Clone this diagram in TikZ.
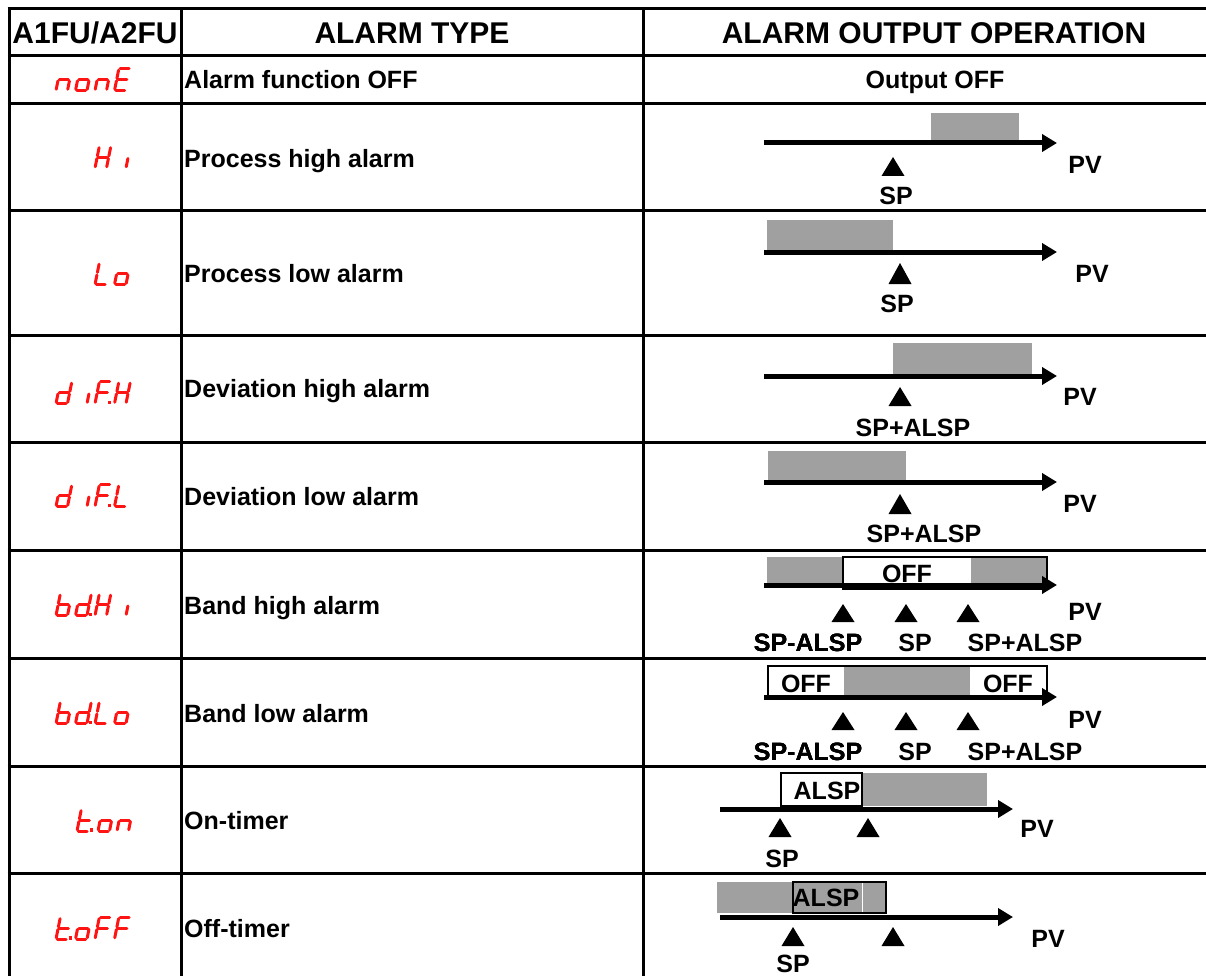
\documentclass[tikz,border=0pt]{standalone}
\usepackage{fontspec}
\setmainfont{Liberation Sans}
\usetikzlibrary{arrows.meta}

\definecolor{segred}{RGB}{255,20,20}
\definecolor{bandgray}{RGB}{160,160,160}

\tikzset{
  rule/.style={line width=3pt},
  txt/.style={font=\fontsize{25}{29}\selectfont\bfseries, inner sep=0pt, text height=18pt, text depth=0pt},
  head/.style={font=\fontsize{30}{34}\selectfont\bfseries, inner sep=0pt, text height=21.5pt, text depth=0pt},
  axis/.style={line width=5pt, -{Triangle[length=15pt,width=17pt]}},
  band/.style={fill=bandgray},
  offbox/.style={draw, line width=2.5pt},
  seg/.style={draw=segred, line width=3pt, line cap=round, shorten <=1.3pt, shorten >=1.3pt},
}

% seven segment glyphs: pairs of corner points
\def\gN{3/5,3/4,4/6}
\def\gO{3/4,4/6,5/6,3/5}
\def\gE{1/2,1/3,3/4,3/5,5/6}
\def\gH{2/4,4/6,1/3,3/5,3/4}
\def\gI{4/6}
\def\gL{1/3,3/5,5/6}
\def\gD{2/4,4/6,5/6,3/5,3/4}
\def\gF{1/2,1/3,3/5,3/4}
\def\gB{1/3,3/5,5/6,4/6,3/4}
\def\gT{1/3,3/5,5/6,3/4}

\newcommand\ssdigit[3]{%
  \begin{scope}[shift={(#1,#2)}, xslant=0.2, x=11.5pt, y=10.8pt]
    \coordinate (p1) at (0,2); \coordinate (p2) at (1,2);
    \coordinate (p3) at (0,1); \coordinate (p4) at (1,1);
    \coordinate (p5) at (0,0); \coordinate (p6) at (1,0);
    \foreach \u/\v in #3 \draw[seg] (p\u) -- (p\v);
  \end{scope}}
\newcommand\ssdot[2]{\fill[segred] (#1+13,#2+0.5) rectangle ++(3.2,-3.2);}
\newcommand\spmark[3]{\fill (#1-11.5,#3) -- (#1,#2) -- (#1+11.5,#3) -- cycle;}
\newcommand\pvaxis[4]{%
  \coordinate (#1s) at (#2,#4); \coordinate (#1e) at (#3,#4);
  \draw[axis] (#1s) -- (#1e);}

\begin{document}
\begin{tikzpicture}[x=1pt, y=-1pt]
  \useasboundingbox (0,0) rectangle (1206,976);
  \clip (0,0) rectangle (1206,976);

  % table rules
  \foreach \y in {9,56,104,211,335,442,550,658,766,873}
    \draw[rule] (7.5,\y) -- (1230,\y);
  \foreach \x in {9,181,643}
    \draw[rule] (\x,7.5) -- (\x,990);

  % header
  \node[head] (h1) at (95,33) {A1FU/A2FU};
  \node[head] (h2) at (412,33) {ALARM TYPE};
  \node[head] (h3) at (934,33) {ALARM OUTPUT OPERATION};

  % alarm types
  \foreach \y/\t [count=\i] in {80/Alarm function OFF, 159/Process high alarm,
      273/Process low alarm, 388/Deviation high alarm, 496/Deviation low alarm,
      605/Band high alarm, 713/Band low alarm, 820/On-timer, 928/Off-timer}
    \node[txt, anchor=west] (type\i) at (184,\y) {\t};

  % codes
  \ssdigit{56}{90.5}{\gN} \ssdigit{75.5}{90.5}{\gO}
  \ssdigit{95}{90.5}{\gN} \ssdigit{114.5}{90.5}{\gE}
  \ssdigit{95}{168}{\gH} \ssdigit{114.5}{168}{\gI}
  \ssdigit{95}{284.5}{\gL} \ssdigit{114.5}{284.5}{\gO}
  \ssdigit{56}{403.5}{\gD} \ssdigit{75.5}{403.5}{\gI}
  \ssdigit{95}{403.5}{\gF} \ssdot{95}{403.5} \ssdigit{114.5}{403.5}{\gH}
  \ssdigit{56}{506.5}{\gD} \ssdigit{75.5}{506.5}{\gI}
  \ssdigit{95}{506.5}{\gF} \ssdot{95}{506.5} \ssdigit{114.5}{506.5}{\gL}
  \ssdigit{56}{615.5}{\gB} \ssdigit{75.5}{615.5}{\gD} \ssdot{75.5}{615.5}
  \ssdigit{95}{615.5}{\gH} \ssdigit{114.5}{615.5}{\gI}
  \ssdigit{56}{723.5}{\gB} \ssdigit{75.5}{723.5}{\gD} \ssdot{75.5}{723.5}
  \ssdigit{95}{723.5}{\gL} \ssdigit{114.5}{723.5}{\gO}
  \ssdigit{77}{831}{\gT} \ssdot{77}{831}
  \ssdigit{98}{831}{\gO} \ssdigit{117}{831}{\gN}
  \ssdigit{56}{939}{\gT} \ssdot{56}{939} \ssdigit{75.5}{939}{\gO}
  \ssdigit{95}{939}{\gF} \ssdigit{114.5}{939}{\gF}

  % output OFF
  \node[txt] (out1) at (935,80) {Output OFF};

  % process high
  \fill[band] (931,113) rectangle (1019,141);
  \pvaxis{ax2}{764}{1057}{143}
  \spmark{893}{157}{176}
  \node[txt] (sp2) at (896,196) {SP};
  \node[txt] (pv2) at (1085,165) {PV};

  % process low
  \fill[band] (767,220) rectangle (893,250);
  \pvaxis{ax3}{764}{1057}{252}
  \spmark{900}{263}{284}
  \node[txt] (sp3) at (897,303) {SP};
  \node[txt] (pv3) at (1092,273) {PV};

  % deviation high
  \fill[band] (893,343) rectangle (1032,374);
  \pvaxis{ax4}{764}{1057}{376}
  \spmark{900}{387}{406}
  \node[txt] (sp4) at (913,427) {SP+ALSP};
  \node[txt] (pv4) at (1080,396) {PV};

  % deviation low
  \fill[band] (768,451) rectangle (906,480);
  \pvaxis{ax5}{764}{1057}{482}
  \spmark{900}{494}{514}
  \node[txt] (sp5) at (924,533) {SP+ALSP};
  \node[txt] (pv5) at (1080,503) {PV};

  % band high
  \fill[band] (767,557) rectangle (1047,585);
  \fill[white] (843,557) rectangle (971,585);
  \draw[offbox] (843,557) rectangle (1047,589);
  \node[txt] (off6) at (907,573) {OFF};
  \pvaxis{ax6}{764}{1057}{585}
  \foreach \x in {843,906,968} \spmark{\x}{604}{622}
  \node[txt] (lo6) at (808,642) {SP-ALSP};
  \node[txt] (sp6) at (915,642) {SP};
  \node[txt] (hi6) at (1025,642) {SP+ALSP};
  \node[txt] (pv6) at (1085,611) {PV};

  % band low
  \fill[band] (844,666) rectangle (970,695);
  \draw[offbox] (768,666) rectangle (1047,697);
  \node[txt] (offa7) at (806,683) {OFF};
  \node[txt] (offb7) at (1008,683) {OFF};
  \pvaxis{ax7}{764}{1057}{697}
  \foreach \x in {843,906,968} \spmark{\x}{712}{730}
  \node[txt] (lo7) at (808,751) {SP-ALSP};
  \node[txt] (sp7) at (915,751) {SP};
  \node[txt] (hi7) at (1025,751) {SP+ALSP};
  \node[txt] (pv7) at (1085,719) {PV};

  % on-timer
  \fill[band] (862,773) rectangle (987,806);
  \draw[offbox] (781,773) rectangle (862,806);
  \node[txt] (al8) at (827,790) {ALSP};
  \pvaxis{ax8}{720}{1013}{809}
  \spmark{780}{818}{837}
  \spmark{868}{818}{837}
  \node[txt] (sp8) at (782,858) {SP};
  \node[txt] (pv8) at (1037,828) {PV};

  % off-timer
  \fill[band] (717,882) rectangle (885,913);
  \draw[offbox] (793,882) rectangle (886,913);
  \draw[white, line width=1pt] (862,883) -- (862,912);
  \node[txt] (al9) at (826,897) {ALSP};
  \pvaxis{ax9}{720}{1013}{917}
  \spmark{793}{927}{946}
  \spmark{893}{927}{946}
  \node[txt] (sp9) at (793,963) {SP};
  \node[txt] (pv9) at (1048,938) {PV};
\end{tikzpicture}
\end{document}
